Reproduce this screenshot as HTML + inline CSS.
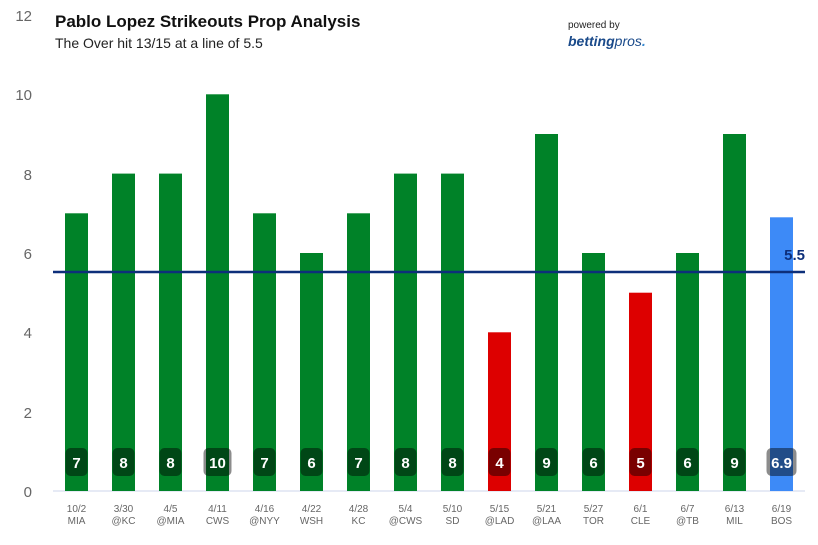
<!DOCTYPE html>
<html><head><meta charset="utf-8"><style>
html,body{margin:0;padding:0;background:#fff;}
svg{display:block;font-family:"Liberation Sans","DejaVu Sans",sans-serif;}
</style></head><body>
<svg width="818" height="545" viewBox="0 0 818 545" xmlns="http://www.w3.org/2000/svg">
<rect width="818" height="545" fill="#fff"/>
<g font-size="15" fill="#666" text-anchor="end">
<text x="32" y="21">12</text>
<text x="32" y="100">10</text>
<text x="32" y="180">8</text>
<text x="32" y="259">6</text>
<text x="32" y="338">4</text>
<text x="32" y="418">2</text>
<text x="32" y="497">0</text>
</g>
<text x="55" y="27" font-size="17" font-weight="bold" fill="#111">Pablo Lopez Strikeouts Prop Analysis</text>
<text x="55" y="48" font-size="14" fill="#222">The Over hit 13/15 at a line of 5.5</text>
<text x="568" y="28" font-size="10" fill="#222">powered by</text>
<text x="568" y="46" font-size="14" font-weight="bold" font-style="italic" fill="#1a4a8a">betting<tspan font-weight="normal">pros</tspan><tspan fill="#3a8ad0">.</tspan></text>
<line x1="53" y1="491" x2="805" y2="491" stroke="#ccd6eb" stroke-width="1"/>
<g>
<rect x="65" y="213.3" width="23" height="277.7" fill="#008228"/>
<rect x="112" y="173.6" width="23" height="317.4" fill="#008228"/>
<rect x="159" y="173.6" width="23" height="317.4" fill="#008228"/>
<rect x="206" y="94.3" width="23" height="396.7" fill="#008228"/>
<rect x="253" y="213.3" width="23" height="277.7" fill="#008228"/>
<rect x="300" y="253" width="23" height="238" fill="#008228"/>
<rect x="347" y="213.3" width="23" height="277.7" fill="#008228"/>
<rect x="394" y="173.6" width="23" height="317.4" fill="#008228"/>
<rect x="441" y="173.6" width="23" height="317.4" fill="#008228"/>
<rect x="488" y="332.3" width="23" height="158.7" fill="#dd0000"/>
<rect x="535" y="134" width="23" height="357" fill="#008228"/>
<rect x="582" y="253" width="23" height="238" fill="#008228"/>
<rect x="629" y="292.7" width="23" height="198.3" fill="#dd0000"/>
<rect x="676" y="253" width="23" height="238" fill="#008228"/>
<rect x="723" y="134" width="23" height="357" fill="#008228"/>
<rect x="770" y="217.3" width="23" height="273.7" fill="#3d8af7"/>
</g>
<g fill="rgba(0,0,0,0.45)">
<rect x="65.5" y="448" width="22" height="28" rx="5"/>
<rect x="112.5" y="448" width="22" height="28" rx="5"/>
<rect x="159.5" y="448" width="22" height="28" rx="5"/>
<rect x="203.5" y="448" width="28" height="28" rx="5"/>
<rect x="253.5" y="448" width="22" height="28" rx="5"/>
<rect x="300.5" y="448" width="22" height="28" rx="5"/>
<rect x="347.5" y="448" width="22" height="28" rx="5"/>
<rect x="394.5" y="448" width="22" height="28" rx="5"/>
<rect x="441.5" y="448" width="22" height="28" rx="5"/>
<rect x="488.5" y="448" width="22" height="28" rx="5"/>
<rect x="535.5" y="448" width="22" height="28" rx="5"/>
<rect x="582.5" y="448" width="22" height="28" rx="5"/>
<rect x="629.5" y="448" width="22" height="28" rx="5"/>
<rect x="676.5" y="448" width="22" height="28" rx="5"/>
<rect x="723.5" y="448" width="22" height="28" rx="5"/>
<rect x="766.5" y="448" width="30" height="28" rx="5"/>
</g>
<g font-size="15" font-weight="bold" fill="#fff" text-anchor="middle">
<text x="76.5" y="468">7</text><text x="123.5" y="468">8</text><text x="170.5" y="468">8</text><text x="217.5" y="468">10</text>
<text x="264.5" y="468">7</text><text x="311.5" y="468">6</text><text x="358.5" y="468">7</text><text x="405.5" y="468">8</text>
<text x="452.5" y="468">8</text><text x="499.5" y="468">4</text><text x="546.5" y="468">9</text><text x="593.5" y="468">6</text>
<text x="640.5" y="468">5</text><text x="687.5" y="468">6</text><text x="734.5" y="468">9</text><text x="781.5" y="468">6.9</text>
</g>
<g font-size="10" fill="#666" text-anchor="middle">
<text x="76.5" y="512">10/2</text><text x="76.5" y="524">MIA</text>
<text x="123.5" y="512">3/30</text><text x="123.5" y="524">@KC</text>
<text x="170.5" y="512">4/5</text><text x="170.5" y="524">@MIA</text>
<text x="217.5" y="512">4/11</text><text x="217.5" y="524">CWS</text>
<text x="264.5" y="512">4/16</text><text x="264.5" y="524">@NYY</text>
<text x="311.5" y="512">4/22</text><text x="311.5" y="524">WSH</text>
<text x="358.5" y="512">4/28</text><text x="358.5" y="524">KC</text>
<text x="405.5" y="512">5/4</text><text x="405.5" y="524">@CWS</text>
<text x="452.5" y="512">5/10</text><text x="452.5" y="524">SD</text>
<text x="499.5" y="512">5/15</text><text x="499.5" y="524">@LAD</text>
<text x="546.5" y="512">5/21</text><text x="546.5" y="524">@LAA</text>
<text x="593.5" y="512">5/27</text><text x="593.5" y="524">TOR</text>
<text x="640.5" y="512">6/1</text><text x="640.5" y="524">CLE</text>
<text x="687.5" y="512">6/7</text><text x="687.5" y="524">@TB</text>
<text x="734.5" y="512">6/13</text><text x="734.5" y="524">MIL</text>
<text x="781.5" y="512">6/19</text><text x="781.5" y="524">BOS</text>
</g>
<line x1="53" y1="272" x2="805" y2="272" stroke="#0d2f7a" stroke-width="2.5"/>
<text x="805" y="260" font-size="15" font-weight="bold" fill="#0d2f7a" text-anchor="end">5.5</text>
</svg>
</body></html>
